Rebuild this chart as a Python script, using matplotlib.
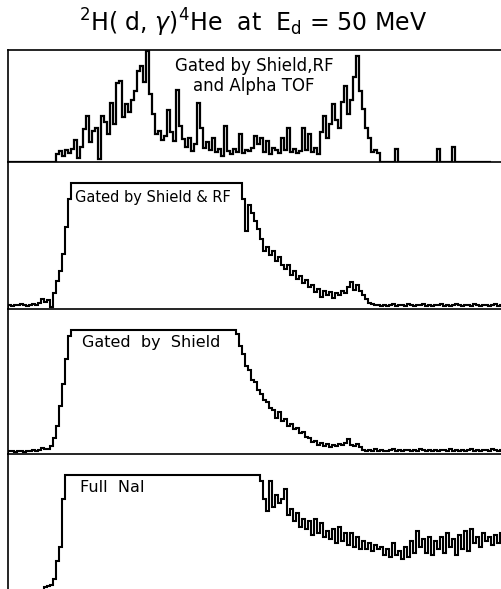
import numpy as np
import matplotlib
matplotlib.use("Agg")
import matplotlib.pyplot as plt

# channel heights (3 px per channel, arbitrary counts)
tof_gated = ([0]*16 +
    [8, 11, 6, 12, 9, 13, 22, 4, 15, 33, 46, 20, 31, 34, 3, 46, 40, 28, 59, 38,
     79, 81, 45, 58, 50, 62, 71, 91, 96, 80, 111, 68, 48, 28, 31, 22, 26, 52, 30, 21,
     72, 36, 23, 15, 24, 11, 18, 59, 34, 14, 20, 12, 24, 10, 13, 6, 36, 11, 8, 13,
     10, 28, 9, 12, 11, 14, 26, 18, 24, 10, 21, 8, 14, 12, 9, 24, 12, 34, 10, 13,
     9, 11, 34, 12, 28, 10, 14, 8, 30, 46, 24, 38, 58, 42, 34, 60, 76, 48, 62, 85,
     106, 71, 53, 34, 24, 10, 12, 9] +
    [0, 0, 0, 0, 0, 13, 0, 0, 0, 0, 0, 0, 0, 0, 0, 0, 0, 0, 0, 13,
     0, 0, 0, 0, 15, 0, 0, 0, 0, 0, 0, 0, 0, 0, 0, 0, 0])

shield_rf = ([4, 3, 4, 4, 5, 4, 3, 4, 5, 4, 6, 10, 7, 9, 2, 16, 28, 38, 55, 82, 110] +
    [126]*57 +
    [110, 78, 104, 96, 88, 80, 70, 58, 62, 54, 58, 48, 52, 44, 40, 44, 34, 38, 30, 33,
     26, 29, 22, 24, 17, 20, 12, 18, 14, 17, 11, 16, 14, 18, 16, 22, 27, 19, 24, 18,
     14, 10, 6] +
    [5, 4, 4, 3, 4, 3, 4, 5, 3, 4, 4, 3, 5, 4, 3, 4, 4, 5, 3, 4, 3, 4,
     4, 5, 3, 4, 3, 4, 5, 4, 3, 4, 4, 3, 5, 4, 3, 4, 4, 3, 4, 5, 3, 4])

shield = ([3, 3, 2, 3, 3, 2, 3, 3, 4, 3, 4, 6, 5, 5, 8, 16, 28, 48, 70, 95, 118] +
    [124]*55 +
    [120, 108, 100, 88, 84, 74, 72, 64, 60, 54, 52, 46, 44, 36, 42, 33, 35, 28, 30, 25,
     26, 21, 22, 17, 16, 12, 13, 9, 11, 8, 10, 7, 9, 8, 10, 9, 11, 15, 9, 8,
     10, 7] +
    [4, 3, 4, 3, 5, 3, 4, 3, 3, 4, 5, 3, 4, 3, 4, 4, 3, 4, 3, 5, 4, 3, 4, 3,
     4, 3, 4, 4, 3, 5, 3, 4, 3, 4, 3, 4, 5, 3, 4, 3, 4, 4, 3, 5, 4, 3, 4])

full_nai = ([6, 5, 6, 5, 6, 6, 5, 6, 7, 6, 7, 8, 12, 13, 14, 20, 38, 52, 100] +
    [124]*65 +
    [118, 100, 88, 118, 92, 104, 96, 100, 110, 84, 90, 78, 86, 72, 80, 70, 78, 64, 80, 66,
     76, 62, 68, 60, 70, 56, 72, 58, 66, 54, 66, 52, 62, 50, 58, 50, 56, 48, 54, 50,
     52, 44, 50, 42, 56, 44, 48, 40, 52, 42, 58, 46, 68, 52, 60, 46, 62, 44, 58, 50,
     62, 46, 66, 52, 60, 44, 64, 50, 68, 48, 70, 56, 62, 52, 66, 58, 62, 54, 64, 56,
     66])

panels = [tof_gated, shield_rf, shield, full_nai]
labels = ["Gated by Shield,RF\nand Alpha TOF", "Gated by Shield & RF",
          "Gated  by  Shield", "Full  NaI"]

W, H = 502, 589
fig = plt.figure(figsize=(W/100, H/100), dpi=100)

# panel top/bottom in pixels
rows = [(50, 162), (162, 309), (309, 454), (454, 599)]
x0, x1 = 8, 504

for k, (vals, (yt, yb)) in enumerate(zip(panels, rows)):
    ax = fig.add_axes([x0/W, 1 - yb/H, (x1-x0)/W, (yb-yt)/H])
    edges = np.arange(len(vals) + 1)
    ax.stairs(vals, edges, color="black", lw=1.6 if k == 0 else 1.5)
    ax.set_xlim(0, (x1 - x0) / 3)
    ax.set_ylim(0, yb - yt)
    ax.set_xticks([])
    ax.set_yticks([])
    ax.spines["right"].set_visible(False)
    ax.spines["top"].set_visible(k == 0)
    for s in ["left", "bottom", "top"]:
        ax.spines[s].set_linewidth(1.2)
    ax.patch.set_alpha(0)
    if k == 0:
        ax.text((254 - x0)/(x1 - x0), 1 - (76 - yt)/(yb - yt), labels[0],
                transform=ax.transAxes, ha="center", va="center",
                fontsize=12, linespacing=1.1)
    else:
        lx = {1: 75, 2: 82, 3: 80}[k]
        ly = {1: 198, 2: 343, 3: 488}[k]
        fs = {1: 10.5, 2: 11.5, 3: 11.5}[k]
        ax.text((lx - x0)/(x1 - x0), 1 - (ly - yt)/(yb - yt), labels[k],
                transform=ax.transAxes, ha="left", va="center", fontsize=fs)

fig.text(253/W, 1 - 23/H, r"$^{2}$H( d, $\gamma$)$^{4}$He  at  E$_{\rm d}$ = 50 MeV",
         ha="center", va="center", fontsize=17)

fig.savefig("out.png", dpi=100)
